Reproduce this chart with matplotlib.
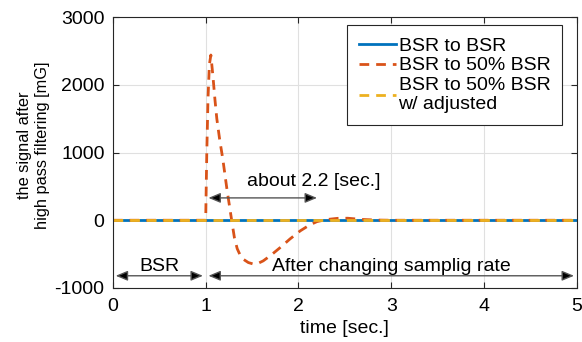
import matplotlib
matplotlib.use("Agg")
import matplotlib.pyplot as plt
import numpy as np

plt.rcParams['font.family'] = ['Liberation Sans', 'DejaVu Sans']
plt.rcParams['axes.unicode_minus'] = False

# data
t_flat = [0, 5]
v_flat = [0, 0]
t_red = [0, 1.0, 1.012, 1.025, 1.04, 1.056, 1.08, 1.10, 1.12, 1.15, 1.185, 1.23, 1.28, 1.31, 1.34,
         1.37, 1.41, 1.46, 1.51, 1.56, 1.62, 1.70, 1.80, 1.91, 2.02, 2.12, 2.2, 2.3, 2.42, 2.53, 2.68,
         2.85, 3.0, 5.0]
v_red = [0, 0, 1000, 1800, 2300, 2440, 2100, 1780, 1500, 1200, 900, 450, 0, -260, -420,
         -510, -580, -625, -645, -640, -600, -520, -407, -275, -156, -70, -20, 10, 28, 30, 12,
         3, 0, 0]
labels = ['BSR to BSR', 'BSR to 50% BSR', 'BSR to 50% BSR\nw/ adjusted']
colors = ['#0072BD', '#D95319', '#EDB120']

fig = plt.figure(figsize=(5.82, 3.42), dpi=100)
ax = fig.add_axes([0.194, 0.158, 0.797, 0.792])

ax.plot(t_flat, v_flat, color=colors[0], lw=2, label=labels[0])
ax.plot(t_red, v_red, color=colors[1], lw=2, ls=(0, (3.5, 2.5)), label=labels[1])
ax.plot(t_flat, v_flat, color=colors[2], lw=2, ls=(0, (3.5, 2.5)), label=labels[2])

ax.set_xlim(0, 5)
ax.set_ylim(-1000, 3000)
ax.set_xticks([0, 1, 2, 3, 4, 5])
ax.set_yticks([-1000, 0, 1000, 2000, 3000])
ax.grid(True, color='#e0e0e0', lw=0.8)
ax.set_axisbelow(True)
ax.tick_params(direction='in', top=True, right=True, labelsize=14, length=4, color='#262626')
ax.tick_params(axis='x', pad=7)
ax.tick_params(axis='y', pad=6)
for s in ax.spines.values():
    s.set_color('#262626')
    s.set_linewidth(0.8)

ax.set_xlabel('time [sec.]', fontsize=14, labelpad=4)
ax.set_ylabel('the signal after\nhigh pass filtering [mG]', fontsize=11.8, linespacing=1.25)
ax.yaxis.set_label_coords(-0.135, 0.526)

arrow_kw = dict(arrowstyle='<|-|>,head_length=0.6,head_width=0.25', facecolor='black',
                edgecolor='#555555', lw=1, mutation_scale=12, shrinkA=2, shrinkB=2)
ax.annotate('', xy=(0.0, -820), xytext=(1.0, -820), arrowprops=arrow_kw)
ax.annotate('', xy=(1.0, -820), xytext=(5.0, -820), arrowprops=arrow_kw)
ax.annotate('', xy=(1.0, 330), xytext=(2.23, 330), arrowprops=arrow_kw)
ax.text(0.5, -690, 'BSR', fontsize=14, ha='center', va='center')
ax.text(3.0, -690, 'After changing samplig rate', fontsize=14, ha='center', va='center')
ax.text(2.17, 570, 'about 2.2 [sec.]', fontsize=14, ha='center', va='center')

leg = ax.legend(loc='upper right', bbox_to_anchor=(0.968, 0.970), fontsize=14, frameon=True,
                fancybox=False, edgecolor='#262626', framealpha=1, borderpad=0.6,
                labelspacing=0.12, handlelength=1.9, handletextpad=0.15, borderaxespad=0)
leg.get_frame().set_linewidth(0.8)

fig.savefig('out.png', dpi=100)
